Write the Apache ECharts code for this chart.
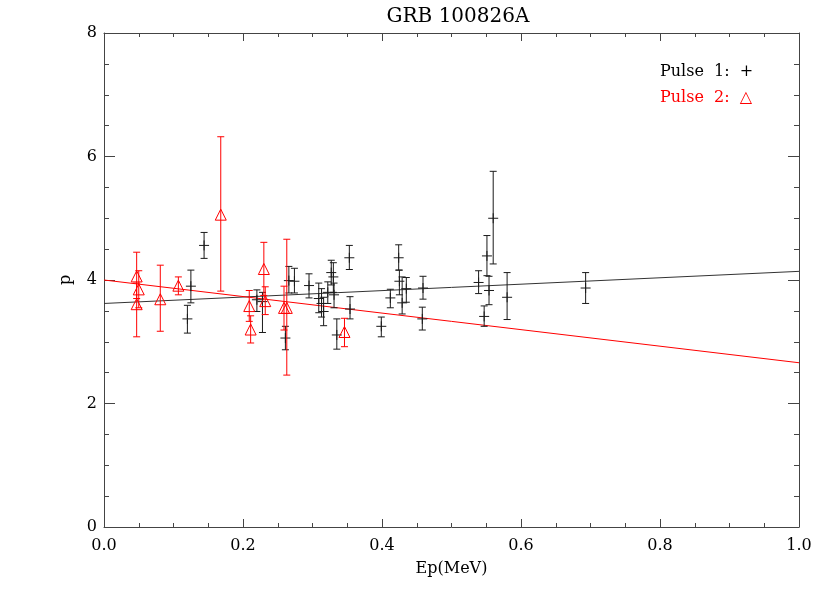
<!DOCTYPE html>
<html><head><meta charset="utf-8">
<script src="https://cdn.jsdelivr.net/npm/echarts@6/dist/echarts.min.js"></script>
<style>html,body{margin:0;padding:0;background:#fff}#c{width:830px;height:593px}</style>
</head><body><div id="c"></div>
<script>
// Pulse 1 (black plus signs): Ep (MeV), p, lower and upper error bounds
const pulse1Ep = [0.120,0.125,0.144,0.220,0.228,0.261,0.266,0.274,0.295,0.309,0.313,0.316,0.322,0.327,0.330,0.331,0.335,0.353,0.354,0.399,0.412,0.424,0.425,0.429,0.435,0.459,0.458,0.539,0.547,0.551,0.554,0.560,0.580,0.693];
const pulse1P  = [3.37,3.90,4.56,3.68,3.65,3.06,3.99,3.98,3.91,3.70,3.62,3.49,3.80,4.12,4.05,3.76,3.11,4.36,3.53,3.25,3.71,4.36,3.98,3.63,3.86,3.87,3.37,3.96,3.41,4.39,3.83,5.00,3.72,3.87];
const pulse1Lo = [3.14,3.63,4.35,3.49,3.15,2.87,3.79,3.79,3.71,3.47,3.40,3.26,3.62,3.92,3.80,3.55,2.88,4.17,3.37,3.08,3.55,4.16,3.76,3.45,3.64,3.69,3.19,3.78,3.25,4.07,3.60,4.26,3.36,3.62];
const pulse1Hi = [3.59,4.16,4.77,3.84,3.80,3.25,4.22,4.19,4.10,3.95,3.86,3.72,3.97,4.32,4.28,3.95,3.37,4.56,3.73,3.40,3.85,4.57,4.16,4.05,4.04,4.06,3.56,4.15,3.58,4.72,4.06,5.76,4.12,4.12];
// Pulse 2 (red triangles)
const pulse2Ep = [0.047,0.050,0.047,0.081,0.107,0.168,0.209,0.211,0.230,0.232,0.259,0.263,0.346];
const pulse2P  = [4.05,3.84,3.60,3.68,3.90,5.05,3.57,3.19,4.17,3.65,3.54,3.54,3.15];
const pulse2Lo = [3.70,3.55,3.08,3.17,3.76,3.82,3.33,2.98,3.75,3.44,3.19,2.46,2.92];
const pulse2Hi = [4.45,4.15,3.95,4.24,4.05,6.32,3.83,3.42,4.61,3.89,3.90,4.66,3.38];
// linear fits (endpoints at Ep = 0 and 1)
const fit1 = [[0,3.62],[1,4.14]];
const fit2 = [[0,4.00],[1,2.66]];
const xTickStep = 0.2, yTickStep = 2;

const BLACK = '#1a1a1a', RED = '#ff0000', AXIS = '#444';
const FONT = '"DejaVu Serif", "Liberation Serif", serif';

function rows(ep, p, lo, hi){ return ep.map((x,i)=>[x,p[i],lo[i],hi[i]]); }

function errRender(kind, color){
  return function(params, api){
    const x = api.value(0), y = api.value(1), lo = api.value(2), hi = api.value(3);
    const c = api.coord([x,y]), cl = api.coord([x,lo]), ch = api.coord([x,hi]);
    const cw = 3.5;
    const st = {stroke:color, lineWidth:1};
    const ch_ = [
      {type:'line', shape:{x1:c[0],y1:cl[1],x2:c[0],y2:ch[1]}, style:st},
      {type:'line', shape:{x1:c[0]-cw,y1:cl[1],x2:c[0]+cw,y2:cl[1]}, style:st},
      {type:'line', shape:{x1:c[0]-cw,y1:ch[1],x2:c[0]+cw,y2:ch[1]}, style:st}
    ];
    if(kind==='plus'){
      ch_.push({type:'line', shape:{x1:c[0]-5,y1:c[1],x2:c[0]+5,y2:c[1]}, style:st});
      ch_.push({type:'line', shape:{x1:c[0],y1:c[1]-5,x2:c[0],y2:c[1]+5}, style:st});
    } else {
      ch_.push({type:'polygon', shape:{points:[[c[0],c[1]-6],[c[0]-5.5,c[1]+5],[c[0]+5.5,c[1]+5]]}, style:{fill:'none', stroke:color, lineWidth:1}});
    }
    return {type:'group', children:ch_};
  };
}

function xAx(pos, labels){
  return {type:'value', min:0, max:1, interval:xTickStep, position:pos,
    axisLine:{show:true, onZero:false, lineStyle:{color:AXIS}},
    axisTick:{show:true, inside:true, length:8, lineStyle:{color:AXIS}},
    minorTick:{show:true, splitNumber:4, length:4, lineStyle:{color:AXIS}},
    splitLine:{show:false},
    axisLabel:{show:labels, formatter:v=>v.toFixed(1), color:'#000', fontFamily:FONT, fontSize:16, margin:11},
    name: labels ? 'Ep(MeV)' : '', nameLocation:'middle', nameGap:34,
    nameTextStyle:{color:'#000', fontFamily:FONT, fontSize:16}};
}
function yAx(pos, labels){
  return {type:'value', min:0, max:8, interval:yTickStep, position:pos,
    axisLine:{show:true, onZero:false, lineStyle:{color:AXIS}},
    axisTick:{show:true, inside:true, length:11, lineStyle:{color:AXIS}},
    minorTick:{show:true, splitNumber:4, length:5, lineStyle:{color:AXIS}},
    splitLine:{show:false},
    axisLabel:{show:labels, color:'#000', fontFamily:FONT, fontSize:16, margin:7},
    name: labels ? 'p' : '', nameLocation:'middle', nameGap:30, nameRotate:90,
    nameTextStyle:{color:'#000', fontFamily:FONT, fontSize:16}};
}

const chart = echarts.init(document.getElementById('c'), null, {renderer:'canvas'});
chart.setOption({
  animation:false,
  backgroundColor:'#fff',
  title:{text:'GRB 100826A', left:453, top:2, textAlign:'center',
    textStyle:{fontFamily:FONT, fontSize:20, fontWeight:'normal', color:'#000'}},
  grid:{left:104, right:31, top:33, bottom:66, containLabel:false},
  xAxis:[xAx('bottom', true), xAx('top', false)],
  yAxis:[yAx('left', true), yAx('right', false)],
  graphic:[
    {type:'text', left:660, top:64, style:{text:'Pulse  1:  +', fill:'#000', font:'16px '+FONT}},
    {type:'text', left:660, top:90, style:{text:'Pulse  2:  \u25B3', fill:RED, font:'16px '+FONT}}
  ],
  series:[
    {type:'line', name:'Fit 1', data:fit1, symbol:'none', lineStyle:{color:'#333', width:1}, z:1},
    {type:'line', name:'Fit 2', data:fit2, symbol:'none', lineStyle:{color:RED, width:1}, z:1},
    {type:'custom', name:'Pulse 1', data:rows(pulse1Ep,pulse1P,pulse1Lo,pulse1Hi), encode:{x:0,y:1}, renderItem:errRender('plus', BLACK), z:2},
    {type:'custom', name:'Pulse 2', data:rows(pulse2Ep,pulse2P,pulse2Lo,pulse2Hi), encode:{x:0,y:1}, renderItem:errRender('tri', RED), z:3}
  ]
});
</script></body></html>
